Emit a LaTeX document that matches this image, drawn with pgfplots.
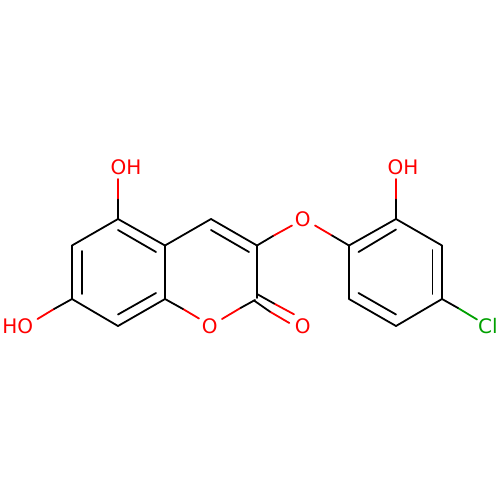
\documentclass[border=0pt]{standalone}
\usepackage{pgfplots}
\pgfplotsset{compat=1.18}
\usepackage{fontspec}
\setmainfont{DejaVu Sans}
\definecolor{cl}{HTML}{00A000}
\definecolor{ox}{HTML}{FF0000}
\newcommand{\B}[1]{\addplot[black,line width=1.8pt,line cap=round,line join=round,no markers] coordinates {#1};}
\newcommand{\R}[1]{\addplot[ox,line width=1.8pt,line cap=round,no markers] coordinates {#1};}
\newcommand{\G}[1]{\addplot[cl,line width=1.8pt,line cap=round,no markers] coordinates {#1};}
\newcommand{\N}[4]{\node[text=#4,font=\fontsize{20}{20}\selectfont,anchor=base,inner sep=0pt] at (axis cs:#1,#2) {#3};}
\begin{document}
\begin{tikzpicture}
\begin{axis}[scale only axis,width=500pt,height=500pt,xmin=0,xmax=500,ymin=0,ymax=500,y dir=reverse,axis line style={draw=none},ticks=none,clip=false]
% left ring
\B{(118,219)(72,245.5)(72,299)(118,326)(165,299)(165,245.5)(118,219)}
\B{(82,251)(82,294)}
\B{(118,230)(156,252)}
\B{(118,314.5)(156,293)}
% pyranone
\B{(165,245.5)(211,219)(257,245.5)(257,298)}
\B{(211,230)(249,252)}
\R{(240.5,308)(222,319)}
\B{(255,300)(240.5,308)}
\R{(183,309)(199,318.5)}
\B{(165,299)(183,309)}
% carbonyl
\R{(274.3,303.7)(294,314.3)}
\B{(257,294)(274.3,303.7)}
\R{(270,311.7)(289.3,323)}
\B{(254,300.5)(270,311.7)}
% OH groups
\R{(118,199.5)(118,179)}
\B{(118,219)(118,199.5)}
\R{(54,309)(37.5,319)}
\B{(72,299)(54,309)}
% ether
\R{(273,236)(292,225.5)}
\B{(257,245.5)(273,236)}
\R{(315,225.5)(332,235.5)}
\B{(332,235.5)(349,245.5)}
% right ring
\B{(349,245.5)(396,219)(442,245.5)(442,299)(396,326)(349,299)(349,245.5)}
\B{(358.5,252)(396,229.5)}
\B{(432.5,250)(432.5,294)}
\B{(358.5,293)(396,314.5)}
\R{(396,199.5)(396,179)}
\B{(396,219)(396,199.5)}
\G{(458,308)(477,319.5)}
\B{(442,299)(458,308)}
\N{126}{174.5}{OH}{ox}
\N{403}{174.5}{OH}{ox}
\N{17.7}{333}{HO}{ox}
\N{209.7}{333}{O}{ox}
\N{302.7}{333}{O}{ox}
\N{302.7}{226.7}{O}{ox}
\node[text=cl,font=\fontsize{20}{20}\selectfont,anchor=base west,inner sep=0pt] at (axis cs:478,333) {Cl};
\end{axis}
\end{tikzpicture}
\end{document}
